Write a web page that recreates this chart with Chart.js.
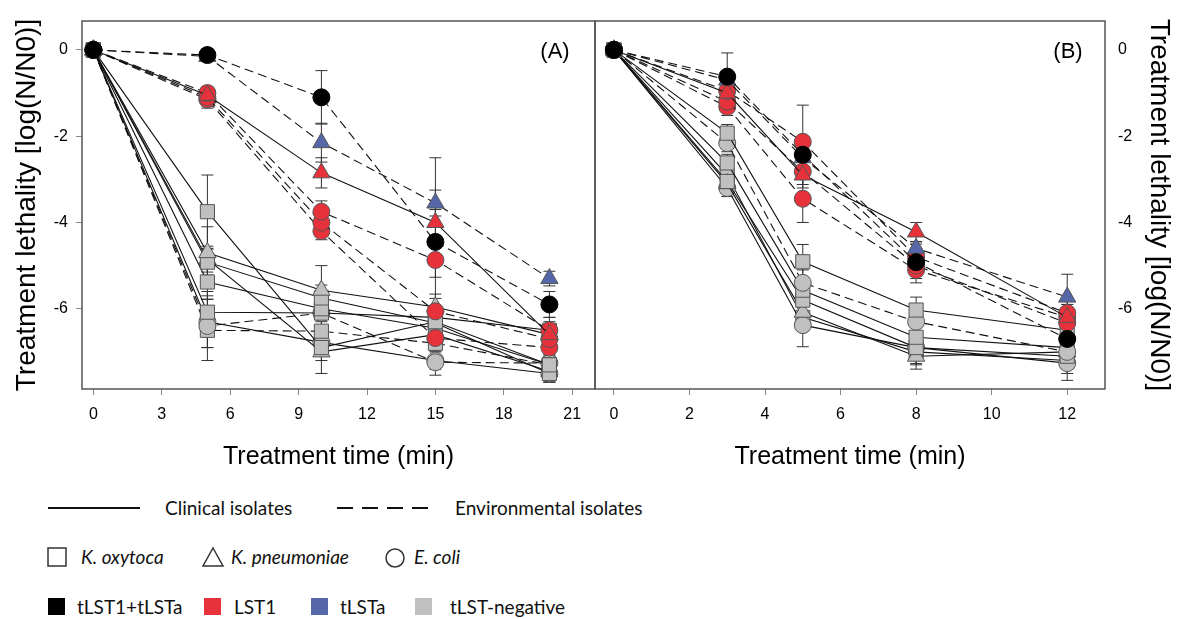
<!DOCTYPE html>
<html>
<head>
<meta charset="utf-8">
<script src="https://cdn.jsdelivr.net/npm/chart.js@4.4.0/dist/chart.umd.min.js"></script>
<style>
    body { margin: 0; background: #fff; width: 1177px; height: 619px; position: relative; overflow: hidden; }
    #wrapA { position: absolute; left: 0; top: 0; width: 597px; height: 480px; }
    #wrapB { position: absolute; left: 594px; top: 0; width: 583px; height: 480px; }
    .lg { position: absolute; font-family: Lato, sans-serif; font-size: 19px; line-height: 20px; color: #111; white-space: nowrap; }
    .lg i { font-style: italic; }
    .sym { position: absolute; }
</style>
</head>
<body>
<div id="wrapA"><canvas id="chartA"></canvas></div>
<div id="wrapB"><canvas id="chartB"></canvas></div>

<!-- legend -->
<svg class="sym" style="left:46px;top:500px" width="96" height="16"><line x1="2" y1="8" x2="94" y2="8" stroke="#111" stroke-width="2"/></svg>
<div class="lg" style="left:165px;top:498px">Clinical isolates</div>
<svg class="sym" style="left:335px;top:500px" width="100" height="16"><line x1="2" y1="8" x2="98" y2="8" stroke="#111" stroke-width="2" stroke-dasharray="16,9"/></svg>
<div class="lg" style="left:455px;top:498px">Environmental isolates</div>

<svg class="sym" style="left:47px;top:547px" width="21" height="21"><rect x="1" y="1" width="18" height="18" fill="none" stroke="#333" stroke-width="1.5"/></svg>
<div class="lg" style="left:81px;top:547px"><i>K. oxytoca</i></div>
<svg class="sym" style="left:201px;top:546px" width="24" height="22"><polygon points="12,2 22,20 2,20" fill="none" stroke="#333" stroke-width="1.5"/></svg>
<div class="lg" style="left:231px;top:547px"><i>K. pneumoniae</i></div>
<svg class="sym" style="left:384px;top:547px" width="22" height="22"><circle cx="11" cy="11" r="9" fill="none" stroke="#333" stroke-width="1.5"/></svg>
<div class="lg" style="left:414px;top:547px"><i>E. coli</i></div>

<svg class="sym" style="left:48px;top:598px" width="18" height="18"><rect x="0" y="0" width="17" height="17" fill="#000"/></svg>
<div class="lg" style="left:77px;top:597px">tLST1+tLSTa</div>
<svg class="sym" style="left:204px;top:598px" width="18" height="18"><rect x="0" y="0" width="17" height="17" fill="#e8323b"/></svg>
<div class="lg" style="left:234px;top:597px">LST1</div>
<svg class="sym" style="left:311px;top:598px" width="18" height="18"><rect x="0" y="0" width="17" height="17" fill="#5566a9"/></svg>
<div class="lg" style="left:340px;top:597px">tLSTa</div>
<svg class="sym" style="left:415px;top:598px" width="18" height="18"><rect x="0" y="0" width="17" height="17" fill="#c0c0c0"/></svg>
<div class="lg" style="left:450px;top:597px">tLST-negative</div>

<script>
// ---- data ----
const timesA = [0, 5, 10, 15, 20];
const timesB = [0, 3, 5, 8, 12];
const xTicksA = [0, 3, 6, 9, 12, 15, 18, 21];
const xTicksB = [0, 2, 4, 6, 8, 10, 12];
const yTicks = [0, -2, -4, -6];

// panel A isolates
const speciesA = ['E. coli', 'K. pneumoniae', 'K. pneumoniae', 'E. coli', 'E. coli', 'E. coli',
    'K. oxytoca', 'K. pneumoniae', 'K. oxytoca', 'K. oxytoca', 'K. oxytoca', 'E. coli', 'K. oxytoca', 'K. pneumoniae', 'E. coli'];
const groupA = ['tLST1+tLSTa', 'tLSTa', 'LST1', 'LST1', 'LST1', 'LST1',
    'tLST-negative', 'tLST-negative', 'tLST-negative', 'tLST-negative', 'tLST-negative', 'tLST-negative', 'tLST-negative', 'tLST-negative', 'tLST-negative'];
const sourceA = ['env', 'env', 'clin', 'env', 'env', 'env',
    'clin', 'clin', 'clin', 'clin', 'clin', 'env', 'env', 'clin', 'clin'];
const logA = [
    [0, -0.12, -1.1, -4.45, -5.9],
    [0, -0.15, -2.15, -3.55, -5.3],
    [0, -1.05, -2.85, -4.0, -6.6],
    [0, -1.0, -3.75, -4.87, -6.5],
    [0, -1.1, -4.0, -6.06, -6.7],
    [0, -1.15, -4.2, -6.68, -6.9],
    [0, -3.75, -6.9, -6.3, -7.3],
    [0, -4.7, -5.57, -5.96, -6.6],
    [0, -4.92, -5.75, -6.33, -7.5],
    [0, -5.38, -6.0, -6.45, -7.3],
    [0, -6.08, -6.1, -6.2, -6.5],
    [0, -6.4, -6.1, -7.24, -7.26],
    [0, -6.5, -6.52, -6.8, -7.3],
    [0, -4.85, -7.0, -6.6, -7.45],
    [0, -6.3, -6.78, -7.2, -7.5]
];
const sdA = [
    [0.05, 0.15, 0.62, 1.95, 0.3],
    [0, 0.1, 0.45, 0.3, 0.17],
    [0, 0.15, 0.35, 0.3, 0.2],
    [0, 0.15, 0.25, 0.4, 0.3],
    [0, 0.2, 0.2, 0.3, 0.3],
    [0, 0.2, 0.2, 0.3, 0.3],
    [0, 0.85, 0.3, 0.3, 0.2],
    [0, 0.6, 0.57, 0.3, 0.2],
    [0, 0.3, 0.3, 0.3, 0.2],
    [0, 0.4, 0.3, 0.2, 0.2],
    [0, 0.3, 0.3, 0.2, 0.2],
    [0, 0.8, 0.5, 0.3, 0.2],
    [0, 0.4, 0.4, 0.3, 0.2],
    [0, 0.3, 0.5, 0.3, 0.25],
    [0, 0.6, 0.3, 0.2, 0.2]
];

// panel B isolates
const speciesB = ['E. coli', 'K. pneumoniae', 'K. pneumoniae', 'E. coli', 'E. coli', 'E. coli',
    'K. oxytoca', 'E. coli', 'K. oxytoca', 'K. oxytoca', 'K. pneumoniae', 'E. coli', 'K. oxytoca'];
const groupB = ['tLST1+tLSTa', 'tLSTa', 'LST1', 'LST1', 'LST1', 'LST1',
    'tLST-negative', 'tLST-negative', 'tLST-negative', 'tLST-negative', 'tLST-negative', 'tLST-negative', 'tLST-negative'];
const sourceB = ['env', 'env', 'clin', 'env', 'env', 'env',
    'clin', 'env', 'clin', 'clin', 'clin', 'clin', 'clin'];
const logB = [
    [0, -0.62, -2.43, -4.92, -6.7],
    [0, -0.7, -2.5, -4.6, -5.73],
    [0, -1.0, -2.9, -4.22, -6.2],
    [0, -0.95, -2.13, -4.8, -6.1],
    [0, -1.2, -2.82, -5.0, -6.33],
    [0, -1.32, -3.45, -5.1, -6.2],
    [0, -1.93, -4.91, -6.03, -6.5],
    [0, -2.16, -5.4, -6.3, -7.0],
    [0, -2.62, -5.57, -6.66, -6.9],
    [0, -3.05, -5.8, -6.9, -7.1],
    [0, -3.1, -6.08, -7.1, -7.0],
    [0, -3.2, -6.38, -6.9, -7.26],
    [0, -2.9, -6.2, -7.0, -7.2]
];
const sdB = [
    [0, 0.55, 0.3, 0.3, 0.2],
    [0, 0.2, 0.3, 0.15, 0.53],
    [0, 0.2, 0.3, 0.22, 0.3],
    [0, 0.2, 0.85, 0.3, 0.3],
    [0, 0.2, 0.3, 0.3, 0.3],
    [0, 0.2, 0.55, 0.3, 0.3],
    [0, 0.2, 0.4, 0.3, 0.3],
    [0, 0.2, 0.3, 0.3, 0.3],
    [0, 0.2, 0.3, 0.3, 0.3],
    [0, 0.25, 0.3, 0.37, 0.3],
    [0, 0.2, 0.4, 0.3, 0.2],
    [0, 0.2, 0.5, 0.2, 0.4],
    [0, 0.2, 0.3, 0.3, 0.3]
];

// ---- styles ----
const groupColor = { 'tLST1+tLSTa': '#000000', 'LST1': '#e8323b', 'tLSTa': '#5566a9', 'tLST-negative': '#c0c0c0' };
const speciesShape = { 'K. oxytoca': 'rect', 'K. pneumoniae': 'triangle', 'E. coli': 'circle' };
const shapeRadius = { rect: 10, triangle: 10, circle: 8.5 };
const yTitle = 'Treatment lethality [log(N/N0)]';
const axisFont = "'Liberation Sans', Arial, sans-serif";

function buildDatasets(times, logs, sds, species, groups, sources) {
    return logs.map((vals, i) => {
        const shape = speciesShape[species[i]];
        return {
            label: species[i] + ' / ' + groups[i],
            data: vals.map((v, j) => ({ x: times[j], y: v })),
            sd: sds[i],
            borderColor: '#111',
            borderWidth: 1.1,
            borderDash: sources[i] === 'env' ? [9, 5] : [],
            pointStyle: shape,
            pointRadius: shapeRadius[shape],
            pointBackgroundColor: groupColor[groups[i]],
            pointBorderColor: groups[i] === 'tLST1+tLSTa' ? '#000' : '#555',
            pointBorderWidth: 1,
            tension: 0,
            fill: false
        };
    });
}

// vertical error bars with caps
const errorBars = {
    id: 'errorBars',
    beforeDatasetsDraw(chart) {
        const ctx = chart.ctx;
        const ys = chart.scales.y;
        ctx.save();
        ctx.strokeStyle = '#333';
        ctx.lineWidth = 1;
        chart.data.datasets.forEach((ds, i) => {
            const meta = chart.getDatasetMeta(i);
            meta.data.forEach((pt, j) => {
                const e = ds.sd[j];
                if (!e) return;
                const v = ds.data[j].y;
                const y1 = ys.getPixelForValue(v + e);
                const y2 = ys.getPixelForValue(v - e);
                ctx.beginPath();
                ctx.moveTo(pt.x, y1); ctx.lineTo(pt.x, y2);
                ctx.moveTo(pt.x - 6, y1); ctx.lineTo(pt.x + 6, y1);
                ctx.moveTo(pt.x - 6, y2); ctx.lineTo(pt.x + 6, y2);
                ctx.stroke();
            });
        });
        ctx.restore();
    }
};

// frame around the plot area and the panel tag
const frame = {
    id: 'frame',
    afterDraw(chart, args, opts) {
        const { ctx, chartArea: a } = chart;
        ctx.save();
        ctx.strokeStyle = '#555';
        ctx.lineWidth = 1.5;
        ctx.strokeRect(a.left, a.top, a.right - a.left, a.bottom - a.top);
        ctx.fillStyle = '#000';
        ctx.font = '22px ' + axisFont;
        ctx.textAlign = 'center';
        ctx.textBaseline = 'middle';
        ctx.fillText(opts.text, a.right - opts.dx, a.top + 31);
        ctx.restore();
    }
};

function makeChart(id, datasets, xr, xTicks, side, tag) {
    const isLeft = side === 'left';
    return new Chart(document.getElementById(id), {
        type: 'line',
        data: { datasets: datasets },
        options: {
            responsive: true,
            maintainAspectRatio: false,
            animation: false,
            devicePixelRatio: 1,
            layout: { autoPadding: false, padding: isLeft ? { top: 21, right: 2 } : { top: 21, left: 1 } },
            plugins: {
                legend: { display: false },
                tooltip: { enabled: false },
                frame: tag
            },
            scales: {
                x: {
                    type: 'linear',
                    position: 'bottom',
                    min: xr[0],
                    max: xr[1],
                    afterBuildTicks: s => { s.ticks = xTicks.map(v => ({ value: v })); },
                    afterFit: s => { s.height = 91; s.paddingLeft = 0; s.paddingRight = 0; },
                    border: { display: false },
                    grid: { drawOnChartArea: false, tickLength: 6, color: '#888' },
                    ticks: { autoSkip: false, maxRotation: 0, padding: 10, color: '#000', font: { family: axisFont, size: 16 } },
                    title: { display: true, text: 'Treatment time (min)', color: '#000', font: { family: axisFont, size: 25 }, padding: { bottom: 8 } }
                },
                y: {
                    type: 'linear',
                    position: side,
                    min: -7.86,
                    max: 0.67,
                    afterBuildTicks: s => { s.ticks = yTicks.map(v => ({ value: v })); },
                    afterFit: s => { s.width = isLeft ? 82 : 72; s.paddingTop = 0; s.paddingBottom = 0; },
                    border: { display: false },
                    grid: { drawOnChartArea: false, drawTicks: isLeft, tickLength: 6, color: '#888' },
                    ticks: { padding: isLeft ? 8 : 13, color: '#000', font: { family: axisFont, size: 16 } },
                    title: { display: true, text: yTitle, color: '#000', font: { family: axisFont, size: 28 }, padding: { top: isLeft ? 10 : 1 } }
                }
            }
        },
        plugins: [errorBars, frame]
    });
}

makeChart('chartA', buildDatasets(timesA, logA, sdA, speciesA, groupA, sourceA),
    [-0.5, 22], xTicksA, 'left', { text: '(A)', dx: 40 });
makeChart('chartB', buildDatasets(timesB, logB, sdB, speciesB, groupB, sourceB),
    [-0.5, 13], xTicksB, 'right', { text: '(B)', dx: 37 });
</script>
</body>
</html>
